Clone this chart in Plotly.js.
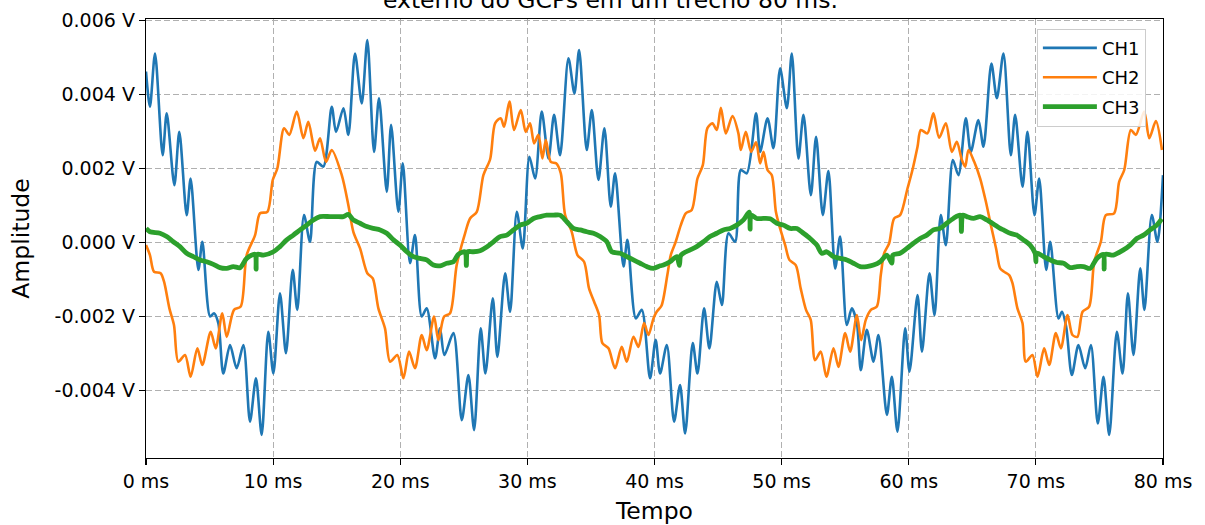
<!DOCTYPE html>
<html>
<head>
<meta charset="utf-8">
<script src="https://cdn.plot.ly/plotly-3.0.1.min.js"></script>
<style>html,body{margin:0;padding:0;background:#fff;}#chart{width:1205px;height:525px;}</style>
</head>
<body>
<div id="chart"></div>
<script>
// Time in ms, amplitudes read in mV (converted to V below)
const ch1_t = [0,0.31,0.71,1.31,1.63,2.23,2.62,3.20,3.51,4.12,4.43,5.04,5.35,5.69,6.08,6.61,7.13,7.66,8.18,8.65,9.10,9.62,10.02,10.54,11.01,11.54,11.90,12.43,12.90,13.43,13.95,14.61,14.95,15.53,15.92,16.44,16.97,17.41,17.94,18.33,18.94,19.28,19.85,20.20,20.77,21.16,21.69,22.08,22.74,23.13,23.47,24.18,24.84,25.36,25.81,26.33,26.70,27.28,27.64,28.25,28.64,29.17,29.64,30.16,30.61,31.13,31.66,32.10,32.57,33.23,33.70,34.07,34.67,35.07,35.59,36.06,36.56,36.90,37.56,37.87,38.53,39.00,39.65,40.09,40.44,40.97,41.54,42.01,42.41,43.01,43.38,43.90,44.32,44.90,45.30,45.82,46.34,46.79,47.26,47.99,48.31,48.89,49.36,49.88,50.41,50.80,51.32,51.72,52.30,52.71,53.24,53.68,54.21,54.60,55.13,55.52,55.92,56.23,56.70,57.23,57.62,58.28,58.67,59.11,59.72,60.06,60.69,61.04,61.63,62.03,62.52,62.92,63.47,63.91,64.49,64.88,65.48,65.88,66.50,66.93,67.45,68.03,68.37,68.95,69.34,69.89,70.26,70.81,71.13,71.78,72.05,72.38,72.83,73.35,73.88,74.33,74.87,75.32,75.77,76.37,76.82,77.24,77.68,78.21,78.54,79.12,79.56,80.0];
const ch1_mV = [4.62,3.67,5.11,2.36,3.49,1.55,2.99,0.74,1.73,-0.74,0.02,-2.00,-1.91,-2.18,-3.54,-2.77,-3.40,-2.77,-4.84,-3.67,-5.20,-2.41,-3.54,-1.37,-2.99,-0.74,-1.82,0.74,0.02,2.18,2.05,3.67,2.99,3.63,2.91,5.11,3.76,5.47,2.45,3.90,1.37,3.18,0.83,2.14,-0.56,0.20,-2.00,-1.78,-3.13,-2.32,-3.04,-2.45,-4.80,-3.58,-5.07,-2.32,-3.54,-1.51,-3.09,-0.83,-1.87,0.83,-0.16,2.32,1.73,3.54,2.27,3.45,2.36,4.98,4.03,5.20,2.50,3.58,1.69,3.09,0.97,1.87,-0.65,0.07,-2.05,-1.82,-3.67,-2.63,-3.54,-2.77,-4.84,-3.85,-5.16,-2.72,-3.54,-1.78,-2.86,-1.06,-1.69,0.25,0.02,1.96,1.87,3.49,2.45,3.36,2.55,4.71,3.63,5.11,2.27,3.45,1.28,2.86,0.74,1.93,-0.70,0.16,-2.23,-1.78,-2.18,-3.45,-2.36,-3.22,-2.50,-4.66,-3.63,-5.11,-2.32,-3.49,-1.42,-2.95,-0.83,-1.96,0.74,-0.07,2.23,1.82,3.36,2.45,3.31,2.59,4.84,3.90,5.11,2.36,3.45,1.51,2.99,0.74,1.73,-0.74,0.02,-2.05,-1.87,-2.27,-3.58,-2.77,-3.40,-2.77,-4.89,-3.63,-5.20,-2.41,-3.54,-1.37,-3.04,-0.70,-1.82,0.74,0.02,1.82];

const ch2_t = [0,0.31,0.63,1.15,1.42,1.84,2.20,2.54,3.07,3.51,4.04,4.43,5.09,5.48,6.00,6.35,6.92,7.45,7.92,8.58,8.97,9.55,9.97,10.33,10.86,11.27,11.86,12.38,12.77,13.30,13.69,14.16,14.61,15.40,15.92,16.31,16.84,17.41,17.84,18.28,18.80,19.20,19.77,20.25,20.69,21.16,21.69,22.08,22.66,23.00,23.45,23.92,24.44,25.10,25.49,26.02,26.54,27.07,27.46,27.90,28.17,28.59,28.95,29.48,29.87,30.21,30.53,30.87,31.18,31.45,31.84,32.26,32.63,32.97,33.49,33.94,34.46,34.85,35.25,35.64,35.90,36.38,36.90,37.42,37.82,38.34,38.74,39.18,39.52,39.92,40.17,40.55,41.01,41.28,41.67,42.07,42.46,42.93,43.38,43.80,44.16,44.56,44.90,45.22,45.61,46.13,46.60,46.79,47.18,47.60,47.99,48.31,48.57,48.89,49.23,49.55,49.88,50.28,50.61,51.11,51.50,51.92,52.29,52.63,53.08,53.52,54.08,54.47,55.00,55.39,55.92,56.25,56.62,57.02,57.49,57.80,58.07,58.46,58.85,59.32,59.90,60.29,60.69,60.95,61.47,61.94,62.39,62.92,63.39,63.78,64.18,64.44,64.70,65.15,65.62,66.07,66.46,66.87,67.19,67.50,67.90,68.16,68.55,68.95,69.21,69.73,70.13,70.65,71.05,71.57,71.97,72.49,72.88,73.27,73.67,74.19,74.59,75.11,75.50,76.16,76.55,76.95,77.47,77.87,78.52,78.92,79.44,79.92];
const ch2_mV = [-0.07,-0.34,-0.79,-0.83,-1.06,-1.78,-2.23,-3.22,-3.04,-3.63,-2.86,-3.31,-2.41,-2.86,-1.91,-2.55,-1.82,-1.73,-0.34,0.20,0.79,0.83,1.69,2.00,3.09,2.91,3.54,2.82,3.26,2.48,2.82,2.18,2.50,1.82,1.01,0.29,-0.16,-0.83,-0.97,-1.78,-2.32,-3.22,-3.04,-3.67,-2.95,-3.40,-2.50,-2.91,-2.00,-2.64,-2.00,-1.91,-0.61,0.25,0.65,0.83,1.82,2.25,3.22,3.36,3.13,3.81,3.04,3.58,2.99,3.22,2.68,2.91,2.27,2.77,2.18,2.14,1.87,0.74,0.29,-0.34,-0.52,-1.24,-1.60,-1.96,-2.72,-2.86,-3.40,-2.82,-3.22,-2.55,-2.82,-2.18,-2.50,-2.05,-1.87,-1.71,-0.88,-0.34,0.02,0.47,0.79,0.88,1.73,2.09,3.09,3.22,3.04,3.64,2.95,3.42,2.95,2.50,2.99,2.45,2.71,2.14,2.45,1.96,1.82,0.83,0.38,-0.07,-0.47,-0.61,-1.24,-1.82,-2.09,-3.18,-2.95,-3.63,-2.86,-3.36,-2.45,-2.95,-1.96,-2.64,-2.09,-1.82,-1.73,-0.88,-0.29,-0.02,0.65,0.74,1.46,1.96,2.59,3.04,2.95,3.49,2.83,3.22,2.45,2.72,2.23,2.05,2.50,2.18,1.73,1.10,0.47,-0.16,-0.70,-0.79,-0.88,-1.10,-1.78,-2.18,-3.22,-3.04,-3.63,-2.86,-3.31,-2.45,-2.86,-1.96,-2.50,-2.55,-1.87,-1.73,-0.52,0.02,0.74,0.79,1.64,1.96,3.04,2.91,3.54,2.82,3.28,2.50];

const ch3_t = [0,0.31,1.10,1.63,2.15,2.67,3.20,3.72,4.25,4.77,5.30,5.82,6.35,6.87,7.40,7.92,8.58,8.66,8.75,9.23,10.02,10.54,11.07,11.59,12.12,12.64,13.17,13.69,14.48,15.00,15.53,15.92,16.31,16.84,17.37,17.89,18.42,18.94,19.47,19.99,20.51,21.03,21.56,22.08,22.61,23.13,23.66,24.18,24.57,25.10,25.20,25.30,25.75,26.28,26.80,27.33,27.85,28.38,28.90,29.43,29.95,30.48,31.00,31.52,32.05,32.57,33.10,33.62,34.15,34.67,35.20,35.72,36.25,36.64,37.30,37.82,38.34,38.87,39.39,39.92,40.44,40.70,41.22,41.75,41.96,42.05,42.27,42.80,43.32,43.85,44.37,44.90,45.42,45.95,46.47,47.00,47.45,47.52,47.60,48.04,48.57,49.10,49.62,50.15,50.67,51.20,51.72,52.24,52.77,53.16,53.55,54.08,54.60,55.13,55.65,56.18,56.70,57.23,57.75,58.28,58.67,58.75,59.32,59.85,60.37,60.90,61.42,61.94,62.47,62.99,63.51,64.04,64.14,64.25,64.56,65.09,65.61,66.14,66.66,67.19,67.45,67.98,68.50,69.03,69.55,69.94,70.00,70.06,70.60,71.13,71.65,72.18,72.70,73.23,73.75,74.27,74.80,75.32,75.37,75.45,76.10,76.89,77.42,77.94,78.47,78.99,79.51,79.90];
const ch3_mV = [0.38,0.29,0.25,0.16,0.02,-0.11,-0.29,-0.38,-0.47,-0.52,-0.59,-0.68,-0.70,-0.65,-0.68,-0.43,-0.32,-0.72,-0.32,-0.34,-0.25,-0.11,0.07,0.20,0.34,0.47,0.61,0.70,0.70,0.70,0.70,0.76,0.61,0.52,0.43,0.38,0.34,0.25,0.07,-0.07,-0.25,-0.38,-0.43,-0.47,-0.61,-0.63,-0.56,-0.52,-0.32,-0.25,-0.62,-0.25,-0.25,-0.22,-0.12,0.02,0.16,0.20,0.34,0.47,0.52,0.65,0.70,0.74,0.74,0.74,0.56,0.38,0.34,0.29,0.25,0.16,0.02,-0.25,-0.29,-0.38,-0.47,-0.56,-0.65,-0.70,-0.63,-0.61,-0.52,-0.38,-0.62,-0.36,-0.29,-0.20,-0.11,0.02,0.16,0.25,0.34,0.38,0.47,0.61,0.82,0.36,0.74,0.65,0.65,0.64,0.52,0.47,0.38,0.38,0.25,0.11,-0.07,-0.29,-0.25,-0.38,-0.43,-0.47,-0.56,-0.65,-0.65,-0.61,-0.52,-0.34,-0.56,-0.34,-0.29,-0.16,-0.02,0.11,0.20,0.34,0.38,0.52,0.65,0.74,0.30,0.74,0.70,0.65,0.70,0.61,0.50,0.38,0.34,0.25,0.20,0.07,-0.07,-0.29,-0.52,-0.29,-0.38,-0.47,-0.54,-0.56,-0.68,-0.65,-0.65,-0.70,-0.43,-0.32,-0.72,-0.32,-0.34,-0.20,-0.07,0.11,0.20,0.34,0.47,0.64];

const seriesNames = ["CH1", "CH2", "CH3"];
const seriesColors = ["#1f77b4", "#ff7f0e", "#2ca02c"];
const xTickVals = [0,10,20,30,40,50,60,70,80];
const xTickText = ["0 ms","10 ms","20 ms","30 ms","40 ms","50 ms","60 ms","70 ms","80 ms"];
const yTickVals = [-0.004,-0.002,0,0.002,0.004,0.006];
const yTickText = ["-0.004 V","-0.002 V","0.000 V","0.002 V","0.004 V","0.006 V"];
const titleText = "externo do GCPs em um trecho 80 ms.";

const toV = a => a.map(v => v / 1000);
const series = [[ch1_t, ch1_mV], [ch2_t, ch2_mV], [ch3_t, ch3_mV]];
const widths = [2.6, 2.6, 4.8];

const traces = series.map((s, i) => ({
  type: 'scatter', mode: 'lines',
  x: s[0], y: toV(s[1]), name: seriesNames[i],
  legendgroup: 'g' + i,
  line: {color: seriesColors[i], width: widths[i], shape: 'spline', smoothing: 0.8}
}));

const fam = 'DejaVu Sans, sans-serif';
const layout = {
  width: 1205, height: 525,
  margin: {l: 146, r: 42, t: 19, b: 67, pad: 0},
  paper_bgcolor: '#fff', plot_bgcolor: '#fff',
  font: {family: fam, size: 18, color: '#000'},
  showlegend: true,
  title: {text: titleText, x: 0.5066, xanchor: 'center', y: 1, yanchor: 'middle', yref: 'container',
          font: {family: fam, size: 23.5, color: '#000'}},
  xaxis: {
    range: [0, 80], tickvals: xTickVals, ticktext: xTickText,
    showline: true, mirror: true, linecolor: '#000', linewidth: 1.3,
    ticks: 'outside', ticklen: 6, tickwidth: 1.2, tickcolor: '#000',
    showgrid: true, gridcolor: '#b0b0b0', gridwidth: 1, griddash: '6px,3px',
    zeroline: false, automargin: false,
    tickfont: {size: 19, color: '#000'},
    title: {text: 'Tempo', font: {size: 23.5, color: '#000'}, standoff: 14}
  },
  yaxis: {
    range: [-0.005824, 0.006041], tickvals: yTickVals, ticktext: yTickText,
    showline: true, mirror: true, linecolor: '#000', linewidth: 1.3,
    ticks: 'outside', ticklen: 6, tickwidth: 1.2, tickcolor: '#000',
    showgrid: true, gridcolor: '#b0b0b0', gridwidth: 1, griddash: '6px,3px',
    zeroline: false, automargin: false,
    tickfont: {size: 19, color: '#000'},
    title: {text: 'Amplitude', font: {size: 23.5, color: '#000'}, standoff: 18}
  },
  legend: {
    x: 0.876, xanchor: 'left', y: 0.978, yanchor: 'top',
    bgcolor: 'rgba(255,255,255,0.85)', bordercolor: '#cccccc', borderwidth: 1,
    font: {size: 18, color: '#000'}, traceorder: 'grouped', tracegroupgap: 3,
    itemwidth: 54
  }
};

Plotly.newPlot('chart', traces, layout, {displayModeBar: false, staticPlot: true});
</script>
</body>
</html>
